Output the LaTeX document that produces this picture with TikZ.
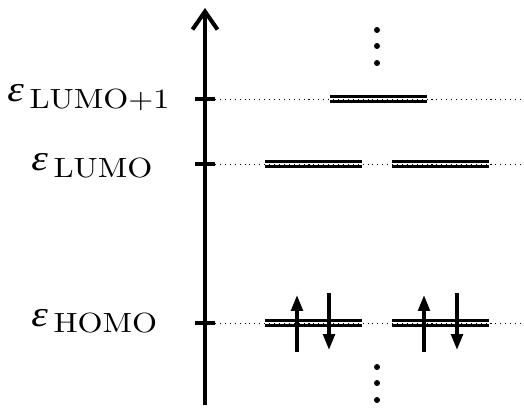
\documentclass[tikz,border=0pt]{standalone}
\usepackage{fontspec}
\usepackage{graphicx}
\usepackage{tikz}
\usetikzlibrary{arrows.meta,positioning}

\newfontfamily\grk{Liberation Serif}
\newcommand{\eps}{\scalebox{1.45}[1.25]{\fontsize{16.5}{20}\selectfont\grk\itshape ε}}
\newcommand{\orb}[1]{\scalebox{1.83}[1.58]{#1}}

\tikzset{
  level/.style={double=white,double distance=1.2pt,line width=1.5pt},
  guide/.style={line width=0.5pt,dash pattern=on 0.6pt off 2.2pt},
  spin/.style={line width=2pt,-{Triangle[length=9pt,width=6.5pt]}},
  tick/.style={line width=2.5pt},
  elabel/.style={anchor=base west,inner sep=0pt},
}

\begin{document}
\begin{tikzpicture}[x=0.02cm,y=-0.02cm,inner sep=0.4mm]
\useasboundingbox (0,0) rectangle (524,407);

% energy axis
\coordinate (bot) at (205,405);
\coordinate (top) at (205,8);
\draw[line width=2.3pt,-{Straight Barb[length=0.36cm,width=0.5cm]}] (bot) -- (top);

% ticks and labels
\coordinate (tl1) at (205,99);
\coordinate (tl0) at (205,164);
\coordinate (th) at (205,323);
\draw[tick] ([xshift=-0.2cm]tl1) -- ([xshift=0.2cm]tl1);
\draw[tick] ([xshift=-0.2cm]tl0) -- ([xshift=0.2cm]tl0);
\draw[tick] ([xshift=-0.2cm]th) -- ([xshift=0.2cm]th);
\node (e1) [elabel] at (7,101) {\eps};
\node (s1) [elabel] at ([xshift=0.1cm,yshift=-0.14cm]e1.base east) {\orb{LUMO+1}};
\node (e0) [elabel] at (31,170) {\eps};
\node (s0) [elabel] at ([xshift=0.1cm,yshift=-0.14cm]e0.base east) {\orb{LUMO}};
\node (eh) [elabel] at (31,326) {\eps};
\node (sh) [elabel] at ([xshift=0.1cm,yshift=-0.12cm]eh.base east) {\orb{HOMO}};

% orbitals
\draw[level] (330,99) -- (427,99);
\draw[level] (265,164) -- (362,164);
\draw[level] (392,164) -- (489,164);
\draw[level] (265,323) -- (362,323);
\draw[level] (392,323) -- (489,323);

% guide lines
\draw[guide] ([xshift=0.2cm]tl1) -- (524,99);
\draw[guide] ([xshift=0.2cm]tl0) -- (524,164);
\draw[guide] ([xshift=0.2cm]th) -- (524,323);

% electrons
\draw[spin] (297,352) -- (297,295);
\draw[spin] (329,293) -- (329,350);
\draw[spin] (424,352) -- (424,295);
\draw[spin] (457,293) -- (457,350);

% more levels
\foreach \y in {30,46,63,367,383,400}
  \fill (377,\y) circle[radius=1.7pt];
\end{tikzpicture}
\end{document}
